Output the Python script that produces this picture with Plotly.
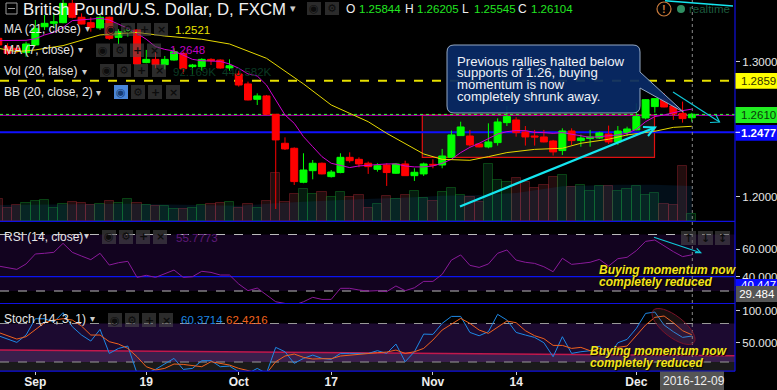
import math
import plotly.graph_objects as go

# ---------- data ----------
opens = [1.3173,1.3111,1.3099,1.3067,1.3124,1.3259,1.3284,1.3289,1.3432,1.3329,
 1.3289,1.3250,1.3329,1.3180,1.3222,1.3235,1.2993,1.3017,1.2978,1.3012,
 1.3062,1.2963,1.2963,1.3017,1.3012,1.2953,1.2909,1.2835,1.2721,1.2746,
 1.2610,1.2395,1.2358,1.2106,1.2192,1.2247,1.2148,1.2178,1.2291,1.2276,
 1.2247,1.2202,1.2234,1.2173,1.2242,1.2155,1.2168,1.2239,1.2234,1.2291,
 1.2452,1.2449,1.2390,1.2368,1.2400,1.2548,1.2568,1.2479,1.2449,1.2442,
 1.2412,1.2341,1.2486,1.2415,1.2430,1.2434,1.2464,1.2405,1.2476,1.2494,
 1.2583,1.2667,1.2723,1.2672,1.2617,1.25844]
highs = [1.3185,1.3136,1.3124,1.3148,1.3309,1.3346,1.3358,1.3457,1.3457,1.3358,
 1.3329,1.3346,1.3334,1.3240,1.3247,1.3240,1.3087,1.3074,1.3042,1.3099,
 1.3074,1.2983,1.3025,1.3025,1.3017,1.3017,1.2933,1.2852,1.2765,1.2753,
 1.2612,1.2439,1.2365,1.2321,1.2271,1.2252,1.2197,1.2321,1.2328,1.2291,
 1.2259,1.2247,1.2247,1.2247,1.2266,1.2210,1.2252,1.2276,1.2353,1.2489,
 1.2555,1.2494,1.2395,1.2543,1.2580,1.2672,1.2588,1.2523,1.2494,1.2494,
 1.2420,1.2506,1.2506,1.2459,1.2494,1.2481,1.2526,1.2523,1.2518,1.2691,
 1.2721,1.2728,1.2765,1.2679,1.2704,1.26205]
lows = [1.3111,1.3049,1.3062,1.3037,1.3116,1.3235,1.3247,1.3284,1.3321,1.3277,
 1.3222,1.3235,1.3161,1.3131,1.3185,1.2980,1.2988,1.2951,1.2943,1.3007,
 1.2909,1.2909,1.2933,1.2975,1.2948,1.2933,1.2815,1.2713,1.2679,1.2605,
 1.1908,1.2345,1.2086,1.2099,1.2128,1.2165,1.2141,1.2173,1.2252,1.2217,
 1.2168,1.2185,1.2079,1.2168,1.2153,1.2116,1.2153,1.2210,1.2210,1.2289,
 1.2449,1.2370,1.2365,1.2358,1.2378,1.2523,1.2444,1.2378,1.2378,1.2402,
 1.2304,1.2308,1.2383,1.2370,1.2370,1.2427,1.2390,1.2383,1.2449,1.2491,
 1.2573,1.2622,1.2662,1.2568,1.2548,1.25545]
closes = [1.3124,1.3062,1.3087,1.3131,1.3247,1.3284,1.3296,1.3432,1.3329,1.3279,
 1.3254,1.3329,1.3173,1.3222,1.3235,1.2983,1.3017,1.2978,1.3017,1.3074,
 1.2948,1.2975,1.3017,1.3007,1.2953,1.2970,1.2827,1.2716,1.2746,1.2610,
 1.2420,1.2353,1.2111,1.2197,1.2247,1.2168,1.2182,1.2291,1.2266,1.2242,
 1.2222,1.2229,1.2178,1.2242,1.2155,1.2180,1.2242,1.2234,1.2301,1.2457,
 1.2516,1.2383,1.2368,1.2405,1.2553,1.2593,1.2474,1.2442,1.2442,1.2405,
 1.2331,1.2486,1.2415,1.2434,1.2442,1.2472,1.2405,1.2486,1.2501,1.2593,
 1.2718,1.2726,1.2664,1.2612,1.2578,1.26104]
volumes = [277,168,202,227,252,265,168,214,239,227,202,218,252,227,277,227,202,189,189,151,
 151,168,202,214,227,239,168,214,164,252,605,239,340,403,340,365,302,365,302,328,
 164,214,315,277,328,378,290,252,365,416,328,302,239,722,521,496,546,496,420,458,
 559,584,433,458,382,445,445,382,407,445,332,357,218,206,697,92]
vol_ma_idx = [0,14,26,30,33,39,42,45,48,52,56,61,67,71,75]
vol_ma = [202,218,193,223,244,273,286,298,319,328,353,437,458,458,441]
ma7 = [1.3156,1.3156,1.3156,1.3158,1.3170,1.3198,1.3217,1.3254,1.3304,1.3309,
 1.3319,1.3321,1.3309,1.3279,1.3247,1.3210,1.3166,1.3111,1.3091,1.3079,
 1.3049,1.3017,1.3007,1.3007,1.3002,1.2983,1.2951,1.2909,1.2894,1.2827,
 1.2716,1.2605,1.2543,1.2444,1.2370,1.2296,1.2247,1.2229,1.2215,1.2227,
 1.2234,1.2237,1.2242,1.2242,1.2227,1.2220,1.2220,1.2227,1.2247,1.2276,
 1.2326,1.2365,1.2395,1.2432,1.2464,1.2481,1.2489,1.2489,1.2476,1.2474,
 1.2469,1.2474,1.2462,1.2449,1.2439,1.2444,1.2449,1.2457,1.2469,1.2499,
 1.2555,1.2593,1.2605,1.2622,1.2637,1.2648]
ma21_idx = [0,2,4,7,11,13,15,18,22,25,29,33,36,38,40,42,44,46,48,51,53,55,58,61,63,66,68,71,73,75]
ma21 = [1.3099,1.3074,1.3087,1.3119,1.3198,1.3210,1.3217,1.3190,1.3166,1.3131,1.3025,1.2835,
 1.2679,1.2617,1.2555,1.2469,1.2395,1.2316,1.2276,1.2269,1.2296,1.2326,1.2350,1.2358,1.2395,
 1.2425,1.2457,1.2484,1.2513,1.2521]
rsi = [47.7,46.3,45.3,49.2,56.4,56.9,57.6,64.1,57.6,54.9,52.3,56.9,48.4,50.1,51.1,39.5,41.0,39.5,41.9,44.8,
 39.5,40.0,43.9,43.1,41.2,41.2,34.7,29.9,31.8,26.7,21.9,20.7,19.5,21.9,25.1,23.6,23.6,31.6,31.6,30.4,
 29.6,29.9,29.2,33.3,29.9,32.0,36.6,36.6,41.7,52.0,55.7,48.2,46.7,49.2,56.9,59.3,52.0,50.4,49.6,47.2,
 43.6,53.3,48.9,49.6,50.4,52.5,47.7,53.0,54.0,58.8,65.5,66.5,62.2,58.1,54.5,55.8]
stoch_k = [60.9,55.2,50.5,62.0,87.5,87.5,82.3,96.9,75.0,62.0,52.6,70.8,33.3,41.1,44.8,2.1,2.1,8.3,16.7,25.5,
 8.3,9.9,21.9,21.9,12.5,13.5,4.7,2.1,9.9,2.1,42.7,35.9,17.7,25.5,30.7,25.5,24.0,33.3,33.3,33.3,
 33.3,37.5,33.3,47.9,20.3,35.9,63.5,63.0,80.2,91.1,91.1,66.1,60.9,67.2,94.3,85.4,66.1,62.0,58.3,50.0,
 28.1,59.4,33.3,35.9,37.5,44.8,28.1,50.0,55.2,72.4,95.8,97.9,77.6,67.2,58.3,60.4]
stoch_d = [66.1,60.4,55.7,59.4,69.8,81.3,85.4,87.5,85.4,76.0,62.0,62.0,51.6,47.9,41.1,28.1,12.5,7.3,9.9,16.7,
 16.1,14.1,12.5,20.3,17.7,15.1,9.9,6.3,3.1,2.1,20.3,29.2,32.3,27.1,24.5,25.0,25.0,29.2,30.7,32.3,
 33.3,34.4,35.4,38.5,33.3,35.9,41.1,54.2,69.8,79.2,88.0,80.2,69.8,64.6,74.0,83.9,81.3,68.8,60.9,56.3,
 45.8,45.8,41.1,42.7,37.5,41.1,37.5,42.7,44.8,62.0,77.6,89.6,91.7,81.3,68.8,62.4]
x_tick_idx = [4,16,26,36,47,56,69]
x_tick_text = ["Sep","19","Oct","17","Nov","14","Dec"]
days = list(range(len(closes)))

W, H = 777, 390
PX = 735
def X(p): return p / W
def Y(p): return 1 - p / H
FONT = "Liberation Sans"

fig = go.Figure()
vol_cols = ["rgba(190,70,80,0.18)" if c < o else "rgba(30,170,90,0.16)" for o, c in zip(opens, closes)]
vol_line = ["rgba(170,40,50,0.4)" if c < o else "rgba(20,150,40,0.4)" for o, c in zip(opens, closes)]
fig.add_bar(x=days, y=volumes, xaxis="x", yaxis="y", width=1,
            marker=dict(color=vol_cols, line=dict(color=vol_line, width=1)), hoverinfo="skip")
fig.add_scatter(x=vol_ma_idx, y=vol_ma, xaxis="x", yaxis="y", mode="none", fill="tozeroy",
                fillcolor="rgba(20,100,170,0.15)", hoverinfo="skip")
fig.add_candlestick(x=days, open=opens, high=highs, low=lows, close=closes, xaxis="x", yaxis="y2",
                    increasing=dict(line=dict(color="#00ff00", width=1), fillcolor="#00ff00"),
                    decreasing=dict(line=dict(color="#ff0000", width=1), fillcolor="#ff0000"),
                    whiskerwidth=0, hoverinfo="skip")
fig.add_scatter(x=days, y=ma7, xaxis="x", yaxis="y2", mode="lines", line=dict(color="#d000d0", width=1), hoverinfo="skip")
fig.add_scatter(x=ma21_idx, y=ma21, xaxis="x", yaxis="y2", mode="lines", line=dict(color="#e6d800", width=1), hoverinfo="skip")
fig.add_scatter(x=days, y=rsi, xaxis="x", yaxis="y3", mode="lines", line=dict(color="#8a1a9a", width=1), hoverinfo="skip")
fig.add_scatter(x=days, y=stoch_k, xaxis="x", yaxis="y4", mode="lines", line=dict(color="#1e88e5", width=1), hoverinfo="skip")
fig.add_scatter(x=days, y=stoch_d, xaxis="x", yaxis="y4", mode="lines", line=dict(color="#f0621e", width=1), hoverinfo="skip")

shapes = []
def rect(x0, y0, x1, y1, fill, line=None, lw=1, layer="above"):
    shapes.append(dict(type="rect", xref="paper", yref="paper", x0=X(x0), x1=X(x1), y0=Y(y0), y1=Y(y1),
                       fillcolor=fill, line=dict(color=line or "rgba(0,0,0,0)", width=lw if line else 0), layer=layer))
def line(x0, y0, x1, y1, color, lw=1, dash="solid", layer="above"):
    shapes.append(dict(type="line", xref="paper", yref="paper", x0=X(x0), x1=X(x1), y0=Y(y0), y1=Y(y1),
                       line=dict(color=color, width=lw, dash=dash), layer=layer))
def path(pts, fill=None, color="rgba(0,0,0,0)", lw=1, layer="above", close=True):
    d = "M " + " L ".join(f"{X(a):.5f},{Y(b):.5f}" for a, b in pts) + (" Z" if close else "")
    shapes.append(dict(type="path", xref="paper", yref="paper", path=d, fillcolor=fill or "rgba(0,0,0,0)",
                       line=dict(color=color, width=lw), layer=layer))

# pane backgrounds
rect(0, 234.5, PX, 291, "#12031f", layer="below")
rect(0, 323.5, PX, 362, "#1c0a30", layer="below")
rect(0, 362, PX, 371, "#1a1a1a", layer="below")
path([(0, 350), (PX, 355.7), (PX, 362), (0, 362)], fill="#3a1f4c", layer="below")
# study lines
line(0, 234.5, PX, 234.5, "#bbbbbb", 1, "dash", "below")
line(0, 291, PX, 291, "#bbbbbb", 1, "dash", "below")
line(0, 276.7, PX, 276.7, "#0a14f0", 1.2, layer="below")
line(0, 323.5, PX, 323.5, "#999999", 1, "dash", "below")
line(0, 362, PX, 362, "#999999", 1, "dash", "below")
line(0, 350, PX, 355.7, "#c2184c", 1.5, layer="below")
# main-pane drawings
rect(422.3, 115, 654.5, 157.3, "#151515", "#e01010", 1.2, "below")
line(0, 80.7, PX, 80.7, "#e8e000", 2, "dash", "below")
line(0, 132.3, PX, 132.3, "#1010ff", 2, layer="below")
line(0, 115.3, PX, 115.3, "#c000c0", 1, layer="below")
line(0, 114.4, PX, 114.4, "#30ff30", 1, "dot", "below")
# separators
line(0, 221.3, PX, 221.3, "#1010e0", 1.2)
line(0, 303.5, PX, 303.5, "#1010e0", 1.2)
line(0, 371.2, PX, 371.2, "#1010e0", 1.2)
line(PX, 0, PX, 371.2, "#1010e0", 1.2)
line(692.3, 0, 692.3, 371, "#8a8a8a", 1, "dot")
# arrows
CY = "#14e6f0"
line(460, 206.5, 655, 127.5, CY, 2.4)
path([(643, 127), (655, 127.5), (648, 136)], color=CY, lw=2, close=False)
line(673, 92, 719.5, 122, "#10c8d8", 1.2)
path([(710, 122.5), (719.5, 122), (716, 115)], color="#10c8d8", lw=1.2, close=False)
line(654, 237.3, 700.7, 252.7, "#10c8d8", 1.2)
path([(695, 252.7), (700.7, 252.7), (696.7, 248.3)], color="#10c8d8", lw=1.2, close=False)
line(665, 0.8, 733, 6, CY, 1.6)
# callout
x0, x1, y0, y1, r = 447, 640, 45, 113, 7
d = (f"M {X(x0+r)},{Y(y0)} L {X(x1-r)},{Y(y0)} Q {X(x1)},{Y(y0)} {X(x1)},{Y(y0+r)} L {X(x1)},{Y(72)} "
     f"L {X(683.5)},{Y(112)} L {X(x1)},{Y(88)} L {X(x1)},{Y(y1-r)} Q {X(x1)},{Y(y1)} {X(x1-r)},{Y(y1)} "
     f"L {X(x0+r)},{Y(y1)} Q {X(x0)},{Y(y1)} {X(x0)},{Y(y1-r)} L {X(x0)},{Y(y0+r)} Q {X(x0)},{Y(y0)} {X(x0+r)},{Y(y0)} Z")
shapes.append(dict(type="path", xref="paper", yref="paper", path=d, fillcolor="rgba(9,42,102,0.93)",
                   line=dict(color="#93a8c4", width=1), layer="above"))
# ellipse
cx, cy, ma, mi, th, k = 673.5, 326.5, 26, 10.5, math.radians(38), 0.5523
def ept(u, v):
    return (cx + u * math.cos(th) - v * math.sin(th), cy + u * math.sin(th) + v * math.cos(th))
ctrl = [(ma, 0), (ma, k*mi), (k*ma, mi), (0, mi), (-k*ma, mi), (-ma, k*mi), (-ma, 0),
        (-ma, -k*mi), (-k*ma, -mi), (0, -mi), (k*ma, -mi), (ma, -k*mi), (ma, 0)]
P = [ept(*c) for c in ctrl]
d = f"M {X(P[0][0])},{Y(P[0][1])}"
for i in range(1, 13, 3):
    d += " C " + " ".join(f"{X(P[j][0])},{Y(P[j][1])}" for j in (i, i+1, i+2))
shapes.append(dict(type="path", xref="paper", yref="paper", path=d + " Z", fillcolor="rgba(170,110,110,0.14)",
                   line=dict(color="#7a1228", width=1), layer="above"))

ann = []
def text(px, py, s, color="#e6e6e6", size=11.5, anchor="left", bold=False, italic=False, family=FONT, shadow=None, bg=None, w=None, h=None):
    a = dict(xref="paper", yref="paper", x=X(px), y=Y(py), text=s, showarrow=False, xanchor=anchor, yanchor="middle",
             borderpad=0, borderwidth=0, align="left",
             font=dict(family=family, size=size, color=color, weight=700 if bold else 400, style="italic" if italic else "normal"))
    if shadow: a["font"]["shadow"] = shadow
    if bg: a["bgcolor"] = bg
    if w: a["width"] = w
    if h: a["height"] = h
    ann.append(a)

def buttons(xs, y0, y1, blue_first=False):
    glyphs = ["◉", "⚙", "+", "×"]
    for i, (a, g) in enumerate(zip(xs, glyphs)):
        b = a + 14
        rect(a, y0, b, y1, "#4a86d8" if (blue_first and i == 0) else "rgba(78,78,78,0.55)")
        text((a + b) / 2, (y0 + y1) / 2, g, color="#163a70" if (blue_first and i == 0) else "#0c0c0c",
             size=11, anchor="center", family="DejaVu Sans", bold=(g in "+×"))

# header
rect(6, 3, 17, 14, "rgba(0,0,0,0)", "#9a9a9a", 1)
line(8, 8.5, 15, 8.5, "#9a9a9a", 1)
text(23, 9, "British Pound/U.S. Dollar, D, FXCM", color="#f0f0f0", size=16.8)
text(290, 8, "▾", color="#cccccc", size=11, family="DejaVu Sans")
buttons([307, 325], 2, 15)
for px, s in ((346, "O"), (405, "H"), (462, "L"), (518, "C")):
    text(px, 9, s, color="#eeeeee", size=12)
for px, s in ((359, "1.25844"), (417, "1.26205"), (474, "1.25545"), (531, "1.26104")):
    text(px, 9, s, color="#22e622", size=11.5)
# realtime
shapes.append(dict(type="circle", xref="paper", yref="paper", x0=X(657), x1=X(671), y0=Y(2), y1=Y(16),
                   fillcolor="rgba(0,0,0,0)", line=dict(color="#c87a3c", width=1.2), layer="above"))
text(664, 9, "!", color="#c87a3c", size=11, anchor="center", bold=True)
shapes.append(dict(type="circle", xref="paper", yref="paper", x0=X(677), x1=X(685), y0=Y(5), y1=Y(13),
                   fillcolor="#2f8f62", line=dict(width=0), layer="above"))
text(689, 9, "realtime", color="#1c5a3e", size=11.5)
# legends
text(4, 29, "MA (21, close)", size=12)
text(85, 29, "▾", color="#cccccc", size=10, family="DejaVu Sans")
buttons([104, 121, 137, 154], 23, 36)
text(175, 30, "1.2521", color="#e6e000", size=11.5)
text(4, 50, "MA (7, close)", size=12)
text(78, 50, "▾", color="#cccccc", size=10, family="DejaVu Sans")
buttons([96, 113, 130, 147], 43.5, 57)
text(170, 50.5, "1.2648", color="#c000c0", size=11.5)
text(4, 71, "Vol (20, false)", size=12)
text(82, 71, "▾", color="#cccccc", size=10, family="DejaVu Sans")
buttons([100, 117, 134, 152], 64, 77)
text(173, 72, "92.169K", color="#0b3a24", size=11.5)
text(222, 72, "440.582K", color="#0b3a24", size=11.5)
text(4, 92, "BB (20, close, 2)", size=12)
text(96, 92, "▾", color="#cccccc", size=10, family="DejaVu Sans")
buttons([114, 131, 148, 166], 85, 99, blue_first=True)
text(4, 237, "RSI (14, close)", size=12)
text(84, 236, "▾", color="#cccccc", size=10, family="DejaVu Sans")
buttons([102, 119, 136, 153], 230, 244)
text(176, 238, "55.7773", color="#5e1a78", size=11.5)
text(4, 319, "Stoch (14, 3, 1)", size=12)
text(90, 318, "▾", color="#cccccc", size=10, family="DejaVu Sans")
buttons([108, 125, 142, 159], 313, 327)
text(181, 320, "60.3714", color="#1e88e5", size=11.5)
text(226, 320, "62.4216", color="#f0621e", size=11.5)
for a, g in ((681, "↑"), (698, "↓"), (715, "↕")):
    rect(a, 231, a + 15, 245, "rgba(78,78,78,0.55)")
    text(a + 7.5, 238, g, color="#0c0c0c", size=11, anchor="center", family="DejaVu Sans", bold=True)
# callout text
for py, s in ((61, "Previous rallies halted below"), (72.7, "supports of 1.26, buying"),
              (84.7, "momentum is now"), (96.7, "completely shrunk away.")):
    text(457, py, s, color="#eef2f8", size=13.2)
# yellow notes
sh = "1px 1px 1px #000000"
text(599, 270, "Buying momentum now", color="#f2e41a", size=12, bold=True, italic=True, shadow=sh)
text(599, 282, "completely reduced", color="#f2e41a", size=12, bold=True, italic=True, shadow=sh)
text(590, 351, "Buying momentum now", color="#f2e41a", size=12, bold=True, italic=True, shadow=sh)
text(590, 363, "completely reduced", color="#f2e41a", size=12, bold=True, italic=True, shadow=sh)
# price labels
rect(735.5, 73, 777, 88.7, "#ffff00")
text(741, 81, "1.2859", color="#333300", size=11.5)
rect(735.5, 107, 777, 123, "#22ee22")
text(741, 115, "1.2610", color="#0b3a0b", size=11.5)
rect(735.5, 125, 777, 140.7, "#0a0aff")
text(741, 133, "1.2477", color="#ffffff", size=11.5, bold=True)
line(735.5, 132.3, 740, 132.3, "#ffffff", 1)
rect(735.5, 279, 777, 286, "#0a0aff")
text(741, 285, "40.447", color="#ffffff", size=11.5)
text(735.5, 294, "&nbsp;29.484", color="#ffffff", size=11.5, bg="#555555", w=41, h=16)
rect(660, 371.5, 724, 390, "#555555")
text(663, 381, "2016-12-09", color="#eeeeee", size=12)

TICK = dict(family=FONT, size=11.5, color="#e6e6e6")
fig.update_layout(
    width=W, height=H, margin=dict(l=0, r=0, t=0, b=0), autosize=False,
    paper_bgcolor="#000000", plot_bgcolor="#000000", showlegend=False, bargap=0, boxgap=0.25, boxgroupgap=0,
    shapes=shapes, annotations=ann, hovermode=False,
    xaxis=dict(domain=[0, PX / W], range=[0.18, 79.67], anchor="y4", tickmode="array", tickvals=x_tick_idx,
               ticktext=x_tick_text, showgrid=False, zeroline=False, showline=False, ticks="outside", ticklen=3,
               ticklabelstandoff=-3,
               tickcolor="#cccccc", tickfont=dict(family=FONT, size=12, color="#eeeeee", weight=700), rangeslider=dict(visible=False)),
    yaxis=dict(domain=[Y(221), 1], range=[0, 2785], visible=False, showgrid=False, zeroline=False),
    yaxis2=dict(domain=[Y(221), 1], range=[1.1819, 1.3457], overlaying="y", side="right", anchor="x", tickmode="array",
                tickvals=[1.20, 1.30], ticktext=["1.2000", "1.3000"], showgrid=False, zeroline=False, showline=False,
                ticks="outside", ticklen=4, tickcolor="#cccccc", tickfont=TICK),
    yaxis3=dict(domain=[Y(303), Y(222)], range=[21, 79.5], side="right", anchor="x", tickmode="array",
                tickvals=[40, 60], ticktext=["40.000", "60.000"], showgrid=False, zeroline=False, showline=False,
                ticks="outside", ticklen=4, tickcolor="#cccccc", tickfont=TICK),
    yaxis4=dict(domain=[Y(371), Y(304)], range=[5.8, 110.5], side="right", anchor="x", tickmode="array",
                tickvals=[50, 100], ticktext=["50.000", "100.00"], showgrid=False, zeroline=False, showline=False,
                ticks="outside", ticklen=4, tickcolor="#cccccc", tickfont=TICK),
)
POST = ("var s=document.documentElement.style,b=document.body.style;s.overflow='hidden';b.overflow='hidden';"
        "b.margin='0';b.background='#000';b.width='777px';b.height='390px';")
fig.write_html("out.html", post_script=POST, config={"displayModeBar": False, "responsive": False})
